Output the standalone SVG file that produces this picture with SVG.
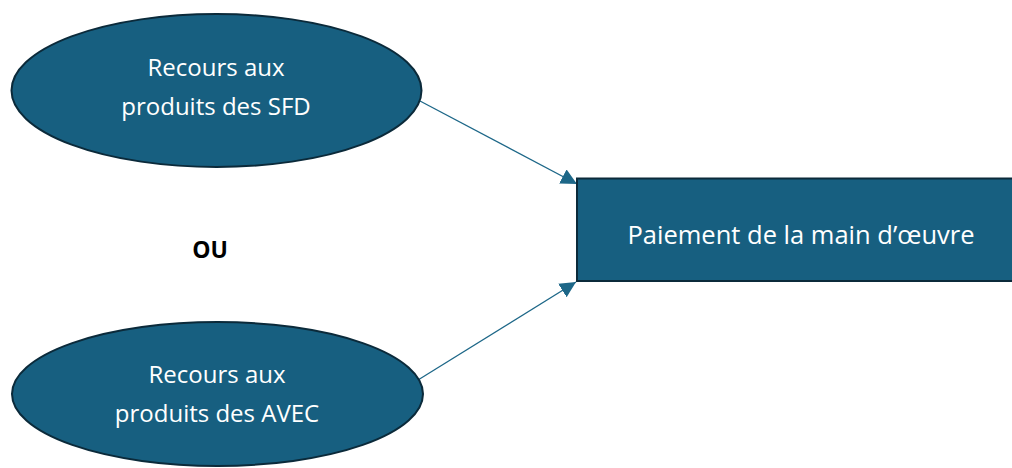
<svg xmlns="http://www.w3.org/2000/svg" width="1012" height="468" viewBox="0 0 1012 468">
  <style>
    .shape { fill: #175f80; stroke: #0b2a3a; stroke-width: 2; }
    .label { fill: #ffffff; font-family: "Open Sans", "Noto Sans", sans-serif; font-size: 24px; text-anchor: middle; }
    .box-label { font-size: 25.5px; }
    .link { stroke: #1d6788; stroke-width: 1.3; fill: none; marker-end: url(#arrow); }
    .ou { fill: #000000; font-family: "Open Sans", "Noto Sans", sans-serif; font-size: 23px; font-weight: bold; text-anchor: middle; }
  </style>
  <defs>
    <marker id="arrow" viewBox="0 0 10 10" refX="10" refY="5" markerWidth="16" markerHeight="16" markerUnits="userSpaceOnUse" orient="auto">
      <path d="M0,0 L10,5 L0,10 z" fill="#1d6788"/>
    </marker>
  </defs>
  <rect width="1012" height="468" fill="#ffffff"/>

  <g id="connectors">
    <line class="link" x1="420" y1="101" x2="577" y2="184"/>
    <line class="link" x1="418" y1="380" x2="576" y2="282"/>
  </g>

  <g id="node-sfd">
    <ellipse class="shape" cx="216.5" cy="90.5" rx="205" ry="76.5"/>
    <text class="label" x="216" y="76">Recours aux</text>
    <text class="label" x="216" y="115">produits des SFD</text>
  </g>

  <g id="node-avec">
    <ellipse class="shape" cx="217.5" cy="394" rx="205.5" ry="72"/>
    <text class="label" x="217" y="383">Recours aux</text>
    <text class="label" x="217" y="422">produits des AVEC</text>
  </g>

  <g id="node-paiement">
    <rect class="shape" x="577" y="178.5" width="440" height="102.5"/>
    <text class="label box-label" x="801" y="244">Paiement de la main d’œuvre</text>
  </g>

  <g id="label-ou">
    <text class="ou" x="210" y="258">OU</text>
  </g>
</svg>
